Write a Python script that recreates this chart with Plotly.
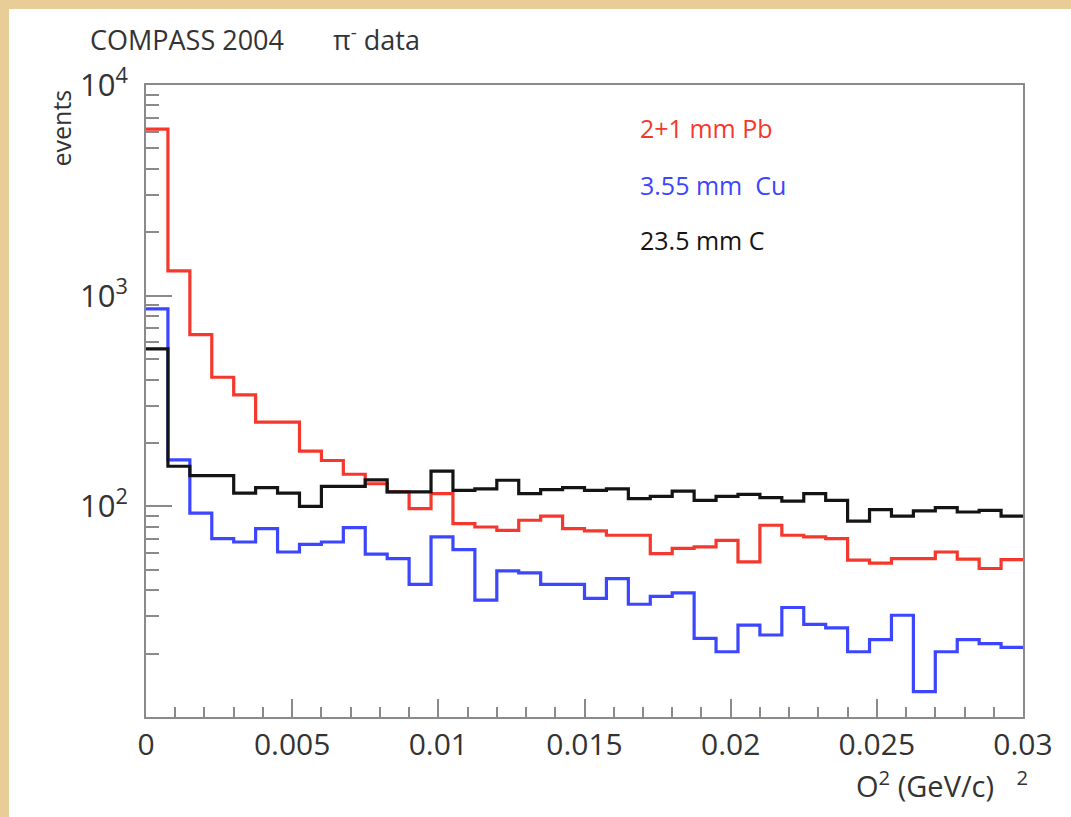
import numpy as np
import plotly.graph_objects as go

# Histogram binning: 40 bins from 0 to 0.03 (GeV/c)^2
x_min, x_max, n_bins = 0.0, 0.03, 40
edges = [x_min + i * (x_max - x_min) / n_bins for i in range(n_bins + 1)]

pb_counts = [6170, 1312, 653, 410, 338, 251, 251, 183, 165, 142, 128, 117, 97.5, 115,
             82.8, 79.8, 76.9, 85.9, 89.8, 78.3, 76.4, 72.9, 72.9, 59.7, 63.1, 64.2,
             69, 54.5, 81.3, 72.9, 71.6, 70.3, 55.5, 53.8, 56.5, 56.5, 60.7, 56.1,
             50.7, 55.9]
cu_counts = [865, 166, 92.9, 70.3, 67.7, 78.3, 60.7, 66, 67.7, 79.2, 59.3, 56.5, 42.6,
             71.6, 62.3, 35.9, 49.4, 48.3, 42.6, 42.6, 36.6, 45.4, 34.3, 37.4, 38.8,
             23.6, 20.4, 27.3, 24.5, 33.1, 27.5, 26.5, 20.4, 23.3, 30.4, 13.2, 20.4,
             23.3, 22.3, 21.4]
c_counts = [559, 155, 140, 140, 115.6, 122.6, 115.6, 100, 124.5, 124.5, 133.6, 117,
            117, 147, 119, 121, 133, 115, 120, 122.6, 119, 121, 108.7, 111.4, 118,
            106.7, 111.4, 114, 110, 105.9, 115, 106.7, 85.1, 96.4, 89.8, 95.1, 98.6,
            94, 95.7, 89.8]

series_names = ["2+1 mm Pb", "3.55 mm  Cu", "23.5 mm C"]
series_colors = ["#f5372c", "#3c46ff", "#141414"]

x_tickvals = [0, 0.005, 0.01, 0.015, 0.02, 0.025, 0.03]
x_ticktext = ["0", "0.005", "0.01", "0.015", "0.02", "0.025", "0.03"]
y_tickvals = [10, 100, 1000, 10000]
y_ticktext = ["", "10<sup>2</sup>", "10<sup>3</sup>", "10<sup>4</sup>"]
y_minor = [m * 10 ** d for d in range(1, 4) for m in range(2, 10)]

FONT = "Open Sans, Liberation Sans, sans-serif"
GREY = "#8a8a8a"
TXT = "#333333"

fig = go.Figure()
for counts, name, color in zip([pb_counts, cu_counts, c_counts], series_names, series_colors):
    fig.add_trace(go.Scatter(
        x=edges, y=list(counts) + [counts[-1]],
        mode="lines", line=dict(shape="hv", color=color, width=3.2),
        name=name, showlegend=False, hoverinfo="skip",
    ))

# plot geometry in pixels
W, H = 1071, 817
L, R, T, B = 146, 1023, 85, 717
pw, ph = R - L, B - T

def px(xp):
    return (xp - L) / pw

def py(yp):
    return (B - yp) / ph

fig.update_layout(
    width=W, height=H,
    margin=dict(l=L, r=W - R, t=T, b=H - B, pad=0),
    paper_bgcolor="#e9cd96",
    plot_bgcolor="white",
    font=dict(family=FONT, color=TXT),
    shapes=[dict(type="rect", xref="paper", yref="paper", layer="below",
                 x0=px(9), x1=px(1100), y0=py(840), y1=py(9),
                 fillcolor="white", line=dict(width=0))],
)

fig.update_xaxes(
    range=[x_min, x_max], showgrid=False, zeroline=False,
    showline=True, linecolor=GREY, linewidth=2, mirror=True,
    tickmode="array", tickvals=x_tickvals, ticktext=x_ticktext,
    ticks="inside", ticklen=18, tickwidth=1.5, tickcolor=GREY,
    tickfont=dict(size=30, family=FONT, color=TXT),
    minor=dict(ticks="inside", ticklen=10, tickwidth=1.5, tickcolor=GREY, dtick=0.001, showgrid=False),
)
fig.update_yaxes(
    type="log", range=[1, 4], showgrid=False, zeroline=False,
    showline=True, linecolor=GREY, linewidth=2, mirror=True,
    tickmode="array", tickvals=y_tickvals, ticktext=y_ticktext,
    ticks="inside", ticklen=26, tickwidth=1.5, tickcolor=GREY,
    ticklabelstandoff=10,
    tickfont=dict(size=31, family=FONT, color=TXT),
    minor=dict(ticks="inside", ticklen=13, tickwidth=1.5, tickcolor=GREY,
               tickvals=y_minor, showgrid=False),
)

annos = [
    dict(text="COMPASS 2004&nbsp;&nbsp;&nbsp;&nbsp;&nbsp;&nbsp;&nbsp;π<sup>-</sup> data", x=px(88), y=py(38),
         xanchor="left", yanchor="middle", font=dict(size=27, color=TXT)),
    dict(text="events", x=px(60), y=py(88), xanchor="center", yanchor="top",
         textangle=-90, font=dict(size=25, color=TXT)),
    dict(text="O<sup>2</sup> (GeV/c)&nbsp;&nbsp;&nbsp;<sup>2</sup>", x=px(1030), y=py(784),
         xanchor="right", yanchor="middle", font=dict(size=29, color=TXT)),
]
legend_y = [128, 185, 240]
for name, color, yy in zip(series_names, series_colors, legend_y):
    annos.append(dict(text=name.replace("  ", "&nbsp;&nbsp;"), x=px(638), y=py(yy),
                      xanchor="left", yanchor="middle",
                      font=dict(size=25, color=color)))
for a in annos:
    a.update(xref="paper", yref="paper", showarrow=False)
fig.update_layout(annotations=annos)

fig.write_html("out.html", config={"displayModeBar": False},
               post_script="document.body.style.margin='0';document.body.style.overflow='hidden';")
